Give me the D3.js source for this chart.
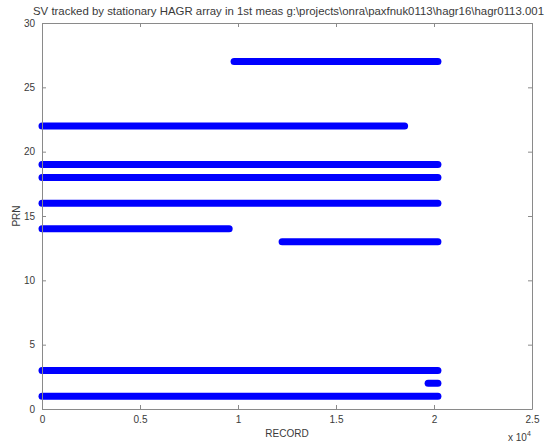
<!DOCTYPE html>
<html>
<head>
<meta charset="utf-8">
<script src="https://cdn.jsdelivr.net/npm/d3@7"></script>
<style>
  html, body { margin: 0; padding: 0; background: #fff; }
  svg { display: block; }
  text { font-family: "Liberation Sans", Arial, sans-serif; fill: #3a3a3a; }
</style>
</head>
<body>
<svg id="chart" width="550" height="446"></svg>
<script>
// Tracking spans per satellite (PRN) over the record index
const prns        = [27, 22, 19, 18, 16, 14, 13, 3, 2, 1];
const recordStart = [9800, 0, 0, 0, 0, 0, 12250, 0, 19700, 0];
const recordEnd   = [20200, 18500, 20200, 20200, 20200, 9550, 20200, 20200, 20200, 20200];

const xTicks = [0, 5000, 10000, 15000, 20000, 25000];
const xTickLabels = ["0", "0.5", "1", "1.5", "2", "2.5"];
const yTicks = [0, 5, 10, 15, 20, 25, 30];

const titleText = "SV tracked by stationary HAGR array in 1st meas g:\\projects\\onra\\paxfnuk0113\\hagr16\\hagr0113.001";

const svg = d3.select("#chart");
const plotLeft = 42, plotRight = 532, plotTop = 23, plotBottom = 409;

const x = d3.scaleLinear().domain([0, 25000]).range([plotLeft, plotRight]);
const y = d3.scaleLinear().domain([0, 30]).range([plotBottom, plotTop]);

const axisColor = "#8a8a8a";

// Tracks
const spans = prns.map((p, i) => ({ prn: p, s: recordStart[i], e: recordEnd[i] }));
svg.append("g").selectAll("line").data(spans).join("line")
  .attr("x1", d => x(d.s)).attr("x2", d => x(d.e))
  .attr("y1", d => y(d.prn)).attr("y2", d => y(d.prn))
  .attr("stroke", "#0000ff").attr("stroke-width", 7).attr("stroke-linecap", "round");

// Axes box with inward ticks on all four sides
const tickLen = 4;
const bottomAxis = d3.axisBottom(x).tickValues(xTicks).tickFormat((d, i) => xTickLabels[i]).tickSizeInner(-tickLen).tickSizeOuter(0).tickPadding(7);
const topAxis = d3.axisTop(x).tickValues(xTicks).tickFormat("").tickSizeInner(-tickLen).tickSizeOuter(0);
const leftAxis = d3.axisLeft(y).tickValues(yTicks).tickSizeInner(-tickLen).tickSizeOuter(0).tickPadding(7);
const rightAxis = d3.axisRight(y).tickValues(yTicks).tickFormat("").tickSizeInner(-tickLen).tickSizeOuter(0);

function style(g) {
  g.select(".domain").attr("stroke", axisColor);
  g.selectAll(".tick line").attr("stroke", axisColor);
  g.selectAll(".tick text").attr("font-size", 10).attr("fill", "#3a3a3a")
    .attr("font-family", "Liberation Sans, Arial, sans-serif");
}
svg.append("g").attr("transform", `translate(0,${plotBottom})`).call(bottomAxis).call(style);
svg.append("g").attr("transform", `translate(0,${plotTop})`).call(topAxis).call(style);
svg.append("g").attr("transform", `translate(${plotLeft},0)`).call(leftAxis).call(style);
svg.append("g").attr("transform", `translate(${plotRight},0)`).call(rightAxis).call(style);

// Labels
svg.append("text").attr("x", 33).attr("y", 15).attr("text-anchor", "start")
  .attr("font-size", 11.5).attr("textLength", 511).attr("lengthAdjust", "spacingAndGlyphs")
  .text(titleText);

svg.append("text").attr("x", (plotLeft + plotRight) / 2).attr("y", 437).attr("text-anchor", "middle")
  .attr("font-size", 10).text("RECORD");

svg.append("text").attr("transform", `translate(20,${(plotTop + plotBottom) / 2}) rotate(-90)`)
  .attr("text-anchor", "middle").attr("font-size", 10).text("PRN");

const mult = svg.append("text").attr("x", 508).attr("y", 441).attr("font-size", 10);
mult.append("tspan").text("x 10");
mult.append("tspan").attr("font-size", 7).attr("dy", -5).text("4");
</script>
</body>
</html>
